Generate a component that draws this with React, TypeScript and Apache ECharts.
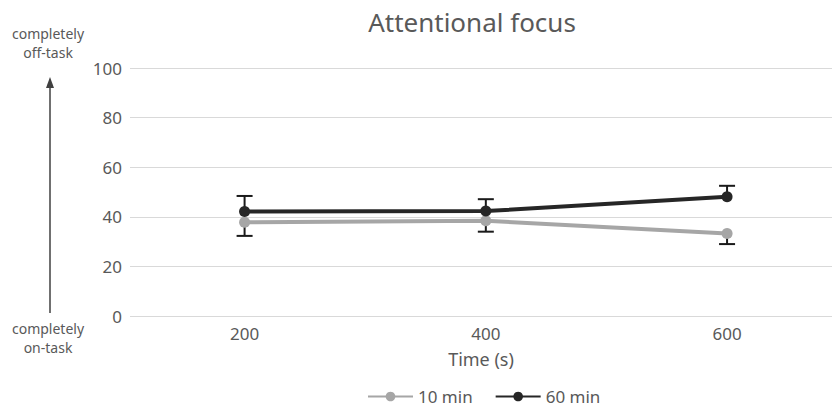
import React, { useEffect, useRef } from "react";
import * as echarts from "echarts";

const times = [200, 400, 600];
const tickLabels = [200, 400, 600];
const yTicks = [0, 20, 40, 60, 80, 100];
const series10 = [37.8, 38.4, 33.3];
const series60 = [42.1, 42.3, 48.1];
const err10Minus = [5.5, 4.4, 4.3];
const err60Plus = [6.3, 4.8, 4.4];
const seriesNames = ["10 min", "60 min"];

const FONT = "'Noto Sans', 'Open Sans', sans-serif";
const TXT = "#595959";

export default function App() {
  const ref = useRef<HTMLDivElement>(null);
  useEffect(() => {
    if (!ref.current) return;
    const chart = echarts.init(ref.current, null, { renderer: "svg" });

    const errData = [
      ...times.map((t, i) => [t, series60[i], series60[i] + err60Plus[i]]),
      ...times.map((t, i) => [t, series10[i], series10[i] - err10Minus[i]]),
    ];

    const option: any = {
      animation: false,
      backgroundColor: "#ffffff",
      textStyle: { fontFamily: FONT },
      title: {
        text: "Attentional focus",
        left: 467,
        textAlign: "center",
        top: 4,
        textStyle: { fontSize: 26, fontWeight: "normal", color: TXT, fontFamily: FONT },
      },
      legend: {
        bottom: 0,
        left: 362,
        itemWidth: 45,
        itemHeight: 12,
        itemGap: 22,
        data: seriesNames,
        textStyle: { fontSize: 17, color: TXT, fontFamily: FONT },
      },
      grid: { left: 130, right: 0, top: 68, bottom: 94, containLabel: false },
      xAxis: {
        type: "value",
        min: 105,
        max: 687,
        name: "Time (s)",
        nameLocation: "middle",
        nameGap: 34,
        nameTextStyle: { fontSize: 18, color: TXT, fontFamily: FONT },
        axisLine: { show: false },
        axisTick: { show: false },
        splitLine: { show: false },
        axisLabel: {
          customValues: tickLabels,
          fontSize: 17,
          color: TXT,
          margin: 9,
          fontFamily: FONT,
        },
      },
      yAxis: {
        type: "value",
        min: yTicks[0],
        max: yTicks[yTicks.length - 1],
        interval: 20,
        axisLine: { show: false },
        axisTick: { show: false },
        axisLabel: { fontSize: 17, color: TXT, margin: 8, fontFamily: FONT },
        splitLine: { lineStyle: { color: "#d9d9d9", width: 1 } },
      },
      series: [
        {
          type: "custom",
          name: "err",
          z: 1,
          silent: true,
          renderItem: (params: any, api: any) => {
            const x = api.value(0);
            const p0 = api.coord([x, api.value(1)]);
            const p1 = api.coord([x, api.value(2)]);
            const hw = 8;
            const st = { stroke: "#1a1a1a", lineWidth: 2 };
            return {
              type: "group",
              children: [
                { type: "line", shape: { x1: p0[0], y1: p0[1], x2: p1[0], y2: p1[1] }, style: st },
                { type: "line", shape: { x1: p1[0] - hw, y1: p1[1], x2: p1[0] + hw, y2: p1[1] }, style: st },
              ],
            };
          },
          data: errData,
        },
        {
          type: "line",
          name: seriesNames[0],
          z: 3,
          data: times.map((t, i) => [t, series10[i]]),
          symbol: "circle",
          symbolSize: 11,
          lineStyle: { color: "#a6a6a6", width: 4 },
          itemStyle: { color: "#a6a6a6" },
        },
        {
          type: "line",
          name: seriesNames[1],
          z: 4,
          data: times.map((t, i) => [t, series60[i]]),
          symbol: "circle",
          symbolSize: 11,
          lineStyle: { color: "#262626", width: 4 },
          itemStyle: { color: "#262626" },
        },
      ],
      graphic: [
        {
          type: "text",
          x: 48,
          y: 24,
          style: { text: "completely\noff-task", fill: TXT, fontSize: 14, fontFamily: FONT, align: "center", verticalAlign: "top", lineHeight: 19 },
        },
        {
          type: "text",
          x: 48,
          y: 319,
          style: { text: "completely\non-task", fill: TXT, fontSize: 14, fontFamily: FONT, align: "center", verticalAlign: "top", lineHeight: 19 },
        },
        {
          type: "line",
          shape: { x1: 50, y1: 313, x2: 50, y2: 86 },
          style: { stroke: "#404040", lineWidth: 1.5 },
        },
        {
          type: "polygon",
          shape: { points: [[50, 77], [46, 88], [54, 88]] },
          style: { fill: "#404040" },
        },
      ],
    };
    chart.setOption(option);
    return () => chart.dispose();
  }, []);
  return (
    <div
      ref={ref}
      style={{ position: "fixed", left: 0, top: 0, width: 832, height: 410 }}
    />
  );
}
